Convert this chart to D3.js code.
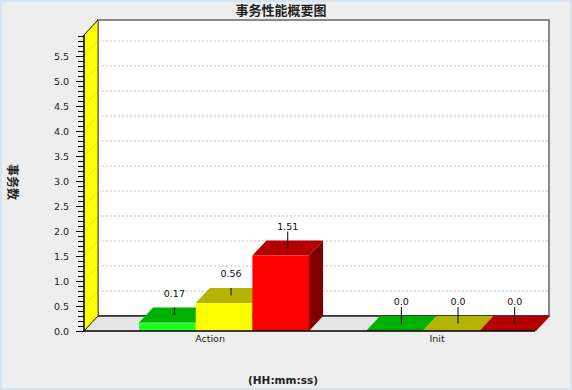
<!DOCTYPE html>
<html>
<head>
<meta charset="utf-8">
<script src="https://cdn.jsdelivr.net/npm/d3@7"></script>
<style>
  body { margin: 0; background: #eeeeee; }
  svg { display: block; }
</style>
</head>
<body>
<svg id="chart" width="572" height="390"></svg>
<script>
// data
const categories = ["Action", "Init"];
const minValues = [0.17, 0.0];
const avgValues = [0.56, 0.0];
const maxValues = [1.51, 0.0];
const yTicks = [0, 0.5, 1, 1.5, 2, 2.5, 3, 3.5, 4, 4.5, 5, 5.5];
const yMax = 5.92;

const series = [
  { name: "min", values: minValues, front: "#22ff22", top: "#00b000", side: "#008000" },
  { name: "avg", values: avgValues, front: "#ffff00", top: "#b4b400", side: "#808000" },
  { name: "max", values: maxValues, front: "#ff0000", top: "#b40000", side: "#800000" }
];

const W = 572, H = 390;
const plot = { left: 84, right: 535, top: 35, bottom: 331 };
const dx = 14, dy = 15;

const svg = d3.select("#chart");

// frame
svg.append("rect").attr("width", W).attr("height", H).attr("fill", "#eeeeee");
svg.append("rect").attr("x", 1).attr("y", 1).attr("width", W - 2).attr("height", H - 2)
  .attr("fill", "none").attr("stroke", "#d6e3f0").attr("stroke-width", 2);

const y = d3.scaleLinear().domain([0, yMax]).range([plot.bottom, plot.top]);
const x = d3.scaleBand()
  .domain(categories)
  .range([plot.left, plot.right])
  .paddingInner(0.251)
  .paddingOuter(0.119)
  .align(0.76);
const xs = d3.scaleBand().domain(series.map(s => s.name)).range([0, x.bandwidth()]);

// back wall
svg.append("rect")
  .attr("x", plot.left + dx).attr("y", plot.top - dy)
  .attr("width", plot.right - plot.left).attr("height", plot.bottom - plot.top)
  .attr("fill", "#ffffff").attr("stroke", "#8a8a8a").attr("stroke-width", 2);

// grid lines on back wall
svg.append("g").selectAll("line")
  .data(yTicks.filter(v => v > 0))
  .join("line")
  .attr("x1", plot.left + dx).attr("x2", plot.right + dx)
  .attr("y1", d => y(d) - dy).attr("y2", d => y(d) - dy)
  .attr("stroke", "#c4c4c4").attr("stroke-dasharray", "2,2");

// floor
svg.append("path")
  .attr("d", `M${plot.left},${plot.bottom}L${plot.right},${plot.bottom}L${plot.right + dx},${plot.bottom - dy}L${plot.left + dx},${plot.bottom - dy}Z`)
  .attr("fill", "#e6e6e6").attr("stroke", "none");
svg.append("line")
  .attr("x1", plot.left + dx).attr("x2", plot.right + dx)
  .attr("y1", plot.bottom - dy).attr("y2", plot.bottom - dy)
  .attr("stroke", "#222").attr("stroke-width", 1.5);
svg.append("line")
  .attr("x1", plot.right).attr("y1", plot.bottom)
  .attr("x2", plot.right + dx).attr("y2", plot.bottom - dy)
  .attr("stroke", "#222");

// yellow side wall
svg.append("path")
  .attr("d", `M${plot.left},${plot.bottom}L${plot.left},${plot.top}L${plot.left + dx},${plot.top - dy}L${plot.left + dx},${plot.bottom - dy}Z`)
  .attr("fill", "#ffff00").attr("stroke", "none");
svg.append("g").selectAll("line")
  .data(yTicks.filter(v => v > 0))
  .join("line")
  .attr("x1", plot.left).attr("x2", plot.left + dx)
  .attr("y1", d => y(d)).attr("y2", d => y(d) - dy)
  .attr("stroke", "#d8d800").attr("stroke-dasharray", "1,1");
svg.append("line")
  .attr("x1", plot.left + dx).attr("x2", plot.left + dx)
  .attr("y1", plot.top - dy).attr("y2", plot.bottom - dy)
  .attr("stroke", "#555");
svg.append("path")
  .attr("d", `M${plot.left},${plot.top}L${plot.left + dx},${plot.top - dy}M${plot.left},${plot.bottom}L${plot.left + dx},${plot.bottom - dy}`)
  .attr("stroke", "#111").attr("fill", "none");

// bars
const fmt = v => v.toFixed(2).replace(/0$/, "");
const bars = [];
categories.forEach((c, i) => {
  const catMax = d3.max(series, s => s.values[i]);
  series.forEach(s => {
    bars.push({ cat: c, s, v: s.values[i], isMax: s.values[i] === catMax });
  });
});

const barG = svg.append("g");
bars.forEach(d => {
  const bx = x(d.cat) + xs(d.s.name) + dx;
  const bw = xs.bandwidth();
  const yt = y(d.v), yb = y(0);
  const g = barG.append("g");
  g.append("path")
    .attr("d", `M${bx + bw},${yt}L${bx + bw + dx},${yt - dy}L${bx + bw + dx},${yb - dy}L${bx + bw},${yb}Z`)
    .attr("fill", d.s.side);
  g.append("rect")
    .attr("x", bx).attr("y", yt).attr("width", bw).attr("height", yb - yt)
    .attr("fill", d.s.front);
  g.append("path")
    .attr("d", `M${bx},${yt}L${bx + bw},${yt}L${bx + bw + dx},${yt - dy}L${bx + dx},${yt - dy}Z`)
    .attr("fill", d.s.top);
  d.cx = bx + bw / 2 + dx / 2;
  d.yt = yt;
});

// item labels
const lab = svg.append("g");
lab.selectAll("line")
  .data(bars)
  .join("line")
  .attr("x1", d => d.cx).attr("x2", d => d.cx)
  .attr("y1", d => d.yt - dy / 2)
  .attr("y2", d => d.isMax ? d.yt - 24 : d.yt - dy)
  .attr("stroke", "#000");
lab.selectAll("text")
  .data(bars)
  .join("text")
  .attr("x", d => d.cx).attr("y", d => d.yt - 26)
  .attr("text-anchor", "middle")
  .attr("font-family", "DejaVu Sans, sans-serif").attr("font-size", 9.5)
  .attr("fill", "#111")
  .text(d => fmt(d.v));

// y axis: minor ticks then major ticks with labels
const minorTicks = d3.range(1, 60).map(k => k / 10).filter(v => v <= yMax);
svg.append("g")
  .attr("transform", `translate(${plot.left},0)`)
  .call(d3.axisLeft(y).tickValues(minorTicks).tickSize(6).tickFormat(""))
  .call(g => g.select(".domain").remove())
  .selectAll("line").attr("stroke", "#000");
svg.append("g")
  .attr("transform", `translate(${plot.left},0)`)
  .call(d3.axisLeft(y).tickValues(yTicks).tickSize(8).tickPadding(7).tickFormat(d3.format(".1f")))
  .call(g => g.select(".domain").remove())
  .call(g => g.selectAll("line").attr("stroke", "#000"))
  .call(g => g.selectAll("text")
    .attr("font-family", "DejaVu Sans, sans-serif").attr("font-size", 9.5).attr("fill", "#222"));
svg.append("line")
  .attr("x1", plot.left).attr("x2", plot.left)
  .attr("y1", plot.top).attr("y2", plot.bottom)
  .attr("stroke", "#000").attr("stroke-width", 1.5);

// x axis
svg.append("g")
  .attr("transform", `translate(0,${plot.bottom})`)
  .call(d3.axisBottom(x).tickSize(0).tickPadding(4))
  .call(g => g.select(".domain").remove())
  .call(g => g.selectAll("text")
    .attr("font-family", "DejaVu Sans, sans-serif").attr("font-size", 9.5).attr("fill", "#222"));
svg.append("line")
  .attr("x1", plot.left).attr("x2", plot.right)
  .attr("y1", plot.bottom).attr("y2", plot.bottom)
  .attr("stroke", "#000").attr("stroke-width", 1.5);

// titles
svg.append("text")
  .attr("x", 281).attr("y", 15)
  .attr("text-anchor", "middle")
  .attr("font-family", "Noto Sans CJK SC, sans-serif").attr("font-size", 13).attr("font-weight", "bold")
  .attr("fill", "#222")
  .text("事务性能概要图");

svg.append("text")
  .attr("transform", "translate(8,182) rotate(90)")
  .attr("text-anchor", "middle")
  .attr("font-family", "Noto Sans CJK SC, sans-serif").attr("font-size", 12).attr("font-weight", "bold")
  .attr("fill", "#222")
  .text("事务数");

svg.append("text")
  .attr("x", 283).attr("y", 384)
  .attr("text-anchor", "middle")
  .attr("font-family", "DejaVu Sans, sans-serif").attr("font-size", 10.5).attr("font-weight", "bold")
  .attr("fill", "#222")
  .text("(HH:mm:ss)");
</script>
</body>
</html>
